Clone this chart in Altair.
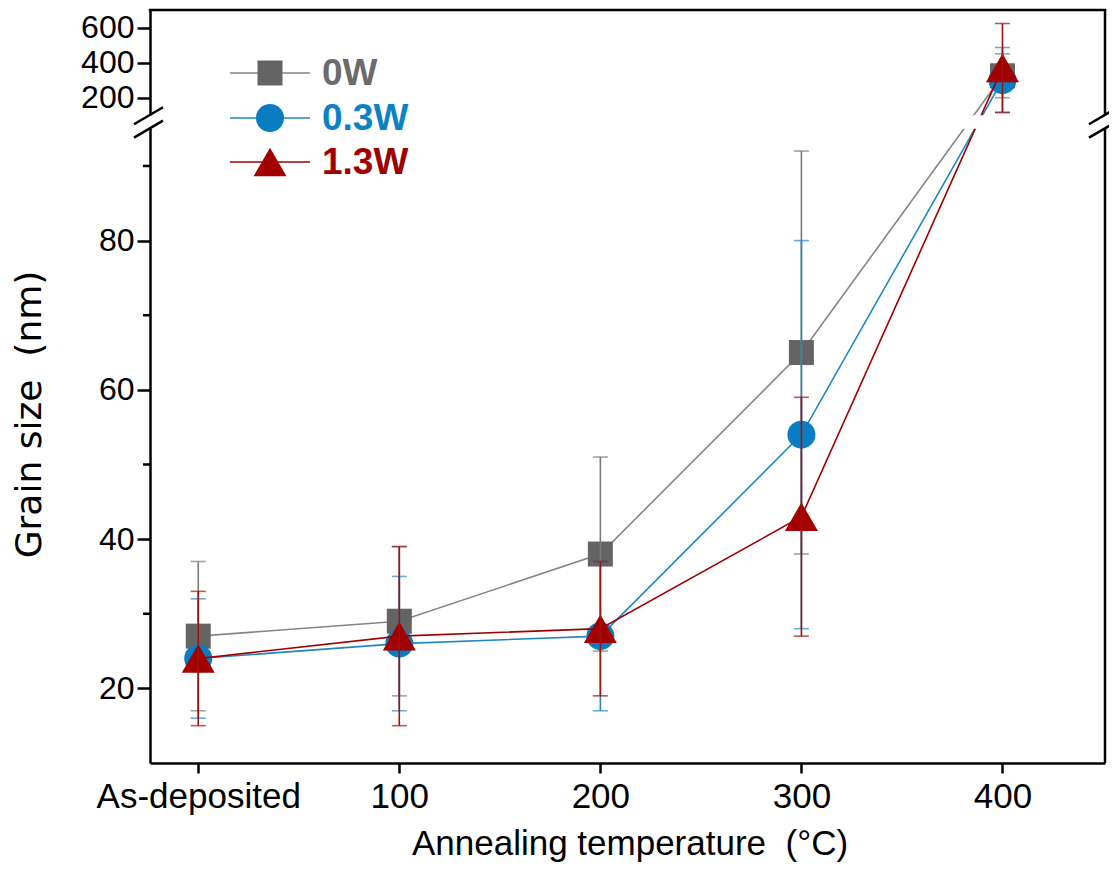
import altair as alt
import pandas as pd

# ---------------- data ----------------
x_labels = ["As-deposited", "100", "200", "300", "400"]
x_pos = [0, 1, 2, 3, 4]
series_names = ["0W", "0.3W", "1.3W"]

size_0W = [27, 29, 38, 65, 325]
err_0W = [10, 10, 13, 27, 125]
size_03W = [24, 26, 27, 54, 300]
err_03W = [8, 9, 10, 26, 186]
size_13W = [24, 27, 28, 43, 370]
err_13W = [9, 12, 9, 16, 253]

y_major_low = [20, 40, 60, 80]
y_major_high = [200, 400, 600]
y_minor = [30, 50, 70, 90]

# ---------------- broken-axis mapping ----------------
LOW_MIN, LOW_MAX = 10, 95
HIGH_MIN, HIGH_MAX = 100, 700
T0 = 96.8
K = 0.0235


def t_of(v):
    return v if v <= LOW_MAX else T0 + (v - HIGH_MIN) * K


T_MAX = t_of(HIGH_MAX)


def t_expr(f):
    return f"datum.{f} <= {LOW_MAX} ? datum.{f} : {T0} + (datum.{f} - {HIGH_MIN}) * {K}"


W, H = 955, 753
X_DOMAIN = [-0.24, 4.51]


def px_of_t(t):
    return H * (1 - (t - LOW_MIN) / (T_MAX - LOW_MIN))


styles = {
    "0W": dict(values=size_0W, err=err_0W, shape="square", size=625,
               fill="#646464", line="#858585", bar="#7a7a7a", text="#6b6b6b"),
    "0.3W": dict(values=size_03W, err=err_03W, shape="circle", size=784,
                 fill="#0a7dc2", line="#1f86c2", bar="#2a87c0", text="#0b82c4"),
    "1.3W": dict(values=size_13W, err=err_13W, shape="triangle-up", size=1089,
                 fill="#a30000", line="#a00000", bar="#a01010", text="#9e0000"),
}

xscale = alt.Scale(domain=X_DOMAIN, nice=False, zero=False)
yscale = alt.Scale(domain=[LOW_MIN, T_MAX], nice=False, zero=False)

x_label_expr = "datum.value == 0 ? 'As-deposited' : format(datum.value * 100, 'd')"
y_values = [float(v) for v in y_major_low] + [t_of(v) for v in y_major_high]
y_label_expr = (f"datum.value > {LOW_MAX + 1} ? format(round((datum.value - {T0}) / {K} + {HIGH_MIN}), 'd')"
                " : format(datum.value, 'd')")

NB = "\u00a0"
x_title = f"Annealing temperature{NB}{NB}(°C)"
y_title = f"Grain size{NB}{NB}(nm)"

x_axis = alt.Axis(values=x_pos, labelExpr=x_label_expr, title=x_title,
                  grid=False, tickSize=10, tickWidth=2.5, domainWidth=2.5, domainColor="black",
                  tickColor="black", labelFont="Liberation Sans", labelFontSize=35,
                  labelColor="black", labelPadding=6, labelFlush=False, labelOverlap=False,
                  labelLimit=0,
                  titleFont="Liberation Sans", titleFontSize=35, titleFontWeight="normal",
                  titleColor="black", titleBaseline="alphabetic", titleY=91, titleX=W / 2 + 2,
                  titleAlign="center", titleLimit=0)
y_axis = alt.Axis(values=y_values, labelExpr=y_label_expr, title=y_title,
                  grid=False, tickSize=13, tickWidth=2.5, domainWidth=2.5, domainColor="black",
                  tickColor="black", labelFont="Liberation Sans", labelFontSize=32,
                  labelColor="black", labelPadding=3, labelFlush=False, labelOverlap=False,
                  titleFont="DejaVu Sans", titleFontSize=36, titleFontWeight="normal",
                  titleColor="black", titleAngle=270, titleBaseline="alphabetic",
                  titleX=-110, titleY=404, titleAlign="center", titleLimit=0)

layers = []

# axes carrier layer (invisible points on first series)
axes_df = pd.DataFrame({"x": x_pos, "v": size_0W})
axes_layer = alt.Chart(axes_df).transform_calculate(t=t_expr("v")).mark_point(opacity=0).encode(
    x=alt.X("x:Q", scale=xscale, axis=x_axis),
    y=alt.Y("t:Q", scale=yscale, axis=y_axis),
)
layers.append(axes_layer)

X = alt.X("x:Q", scale=xscale, title=x_title)


def Yf(f):
    return alt.Y(f"{f}:Q", scale=yscale, title=y_title)


for name in series_names:
    s = styles[name]
    df = pd.DataFrame({"x": x_pos, "v": s["values"], "e": s["err"]})
    base = alt.Chart(df).transform_calculate(
        lo_v="datum.v - datum.e", hi_v="datum.v + datum.e"
    ).transform_calculate(
        t=t_expr("v"), lo=t_expr("lo_v"), hi=t_expr("hi_v")
    )
    line = base.mark_line(color=s["line"], strokeWidth=1.6).encode(x=X, y=Yf("t"))
    pts = base.mark_point(shape=s["shape"], size=s["size"], filled=True, fill=s["fill"],
                          opacity=1, strokeWidth=0).encode(x=X, y=Yf("t"))
    bar = base.mark_rule(color=s["bar"], strokeWidth=1.6).encode(x=X, y=Yf("lo"), y2="hi:Q")
    cap_lo = base.mark_tick(color=s["bar"], thickness=1.6, size=15, orient="horizontal").encode(
        x=X, y=Yf("lo"))
    cap_hi = base.mark_tick(color=s["bar"], thickness=1.6, size=15, orient="horizontal").encode(
        x=X, y=Yf("hi"))
    layers += [line, pts, bar, cap_lo, cap_hi]

# minor ticks on the y axis
minor_df = pd.DataFrame({"m": y_minor})
minor = alt.Chart(minor_df).mark_rule(color="black", strokeWidth=2.5).encode(
    y=Yf("m"), x=alt.value(-7), x2=alt.value(0))
layers.append(minor)

one = pd.DataFrame({"k": [0]})
g_top, g_bot = px_of_t(T0), px_of_t(LOW_MAX)

# white band hiding the axis break
gap = alt.Chart(one).mark_rect(color="white").encode(
    x=alt.value(-4), x2=alt.value(W + 4), y=alt.value(g_top), y2=alt.value(g_bot))
layers.append(gap)

# frame: top and right borders (right one broken)
layers += [
    alt.Chart(one).mark_rule(color="black", strokeWidth=2.5).encode(
        x=alt.value(-1.25), x2=alt.value(W + 1.25), y=alt.value(0)),
    alt.Chart(one).mark_rule(color="black", strokeWidth=2.5).encode(
        x=alt.value(W), y=alt.value(0), y2=alt.value(g_top)),
    alt.Chart(one).mark_rule(color="black", strokeWidth=2.5).encode(
        x=alt.value(W), y=alt.value(g_bot), y2=alt.value(H)),
]

# break marks (//) on left and right axes
for xc in (0, W):
    for yc in (g_top, g_bot):
        layers.append(alt.Chart(one).mark_rule(color="black", strokeWidth=2.5).encode(
            x=alt.value(xc - 16), x2=alt.value(xc + 13),
            y=alt.value(yc + 9), y2=alt.value(yc - 8)))

# manual legend
legend_rows = [63, 108, 152]
for name, ry in zip(series_names, legend_rows):
    s = styles[name]
    ldf = pd.DataFrame({"name": [name]})
    layers.append(alt.Chart(ldf).mark_rule(color=s["line"], strokeWidth=1.6).encode(
        x=alt.value(80), x2=alt.value(160), y=alt.value(ry)))
    layers.append(alt.Chart(ldf).mark_point(shape=s["shape"], size=s["size"], filled=True,
                                            fill=s["fill"], opacity=1, strokeWidth=0).encode(
        x=alt.value(120), y=alt.value(ry)))
    layers.append(alt.Chart(ldf).mark_text(align="left", baseline="middle", font="Liberation Sans",
                                           fontSize=37, fontWeight="bold", color=s["text"]).encode(
        x=alt.value(172), y=alt.value(ry + 1), text="name:N"))

chart = alt.layer(*layers).properties(
    width=W, height=H,
    background="white",
    autosize=alt.AutoSizeParams(type="none"),
    padding={"left": 142, "top": 2, "right": 4, "bottom": 101},
).configure_view(strokeWidth=0, stroke=None)

chart.save("out.html", embed_options={"renderer": "svg", "actions": False})
